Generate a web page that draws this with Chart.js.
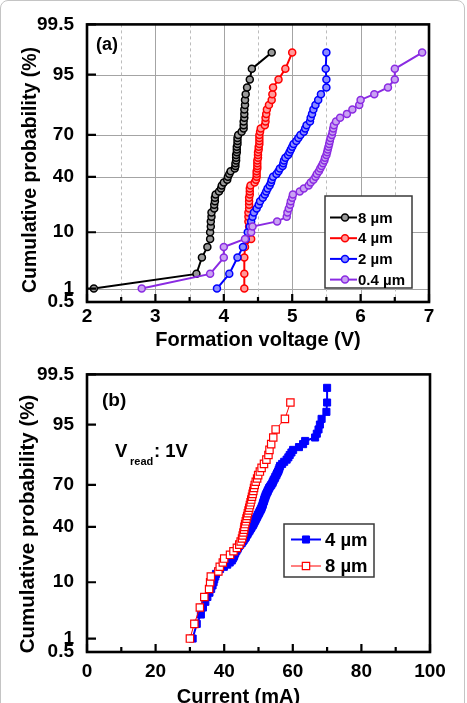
<!DOCTYPE html>
<html>
<head>
<meta charset="utf-8">
<title>Cumulative probability</title>
<script src="https://cdn.jsdelivr.net/npm/chart.js"></script>
<style>
  html, body { margin: 0; padding: 0; background: #fff; }
  body { width: 467px; height: 703px; position: relative; overflow: hidden; }
  .frame { position: absolute; left: 0; top: 0; width: 463px; height: 740px; border: 1.5px solid #c4c4c4; border-radius: 8px; }
  canvas { position: absolute; left: 0; }
  #chartA { top: 0; }
  #chartB { top: 350px; }
</style>
</head>
<body>
<div class="frame"></div>
<canvas id="chartA" width="467" height="350"></canvas>
<canvas id="chartB" width="467" height="360"></canvas>
<script>
// probability axis ticks (%)
const probTicks = [0.5, 1, 10, 40, 70, 95, 99.5];

// (a) formation voltage, cumulative probability in %
const probA = [1, 2, 4, 6, 8, 10, 12, 14, 16, 18, 20, 22, 24, 26, 28, 30, 32, 34, 36, 38,
  40, 42, 44, 46, 48, 50, 52, 54, 56, 58, 60, 62, 64, 66, 68, 70, 72, 74, 76, 78,
  80, 82, 84, 86, 88, 90, 92, 94, 96, 98];
const volt8um = [2.10, 3.60, 3.68, 3.76, 3.80, 3.80, 3.81, 3.81, 3.82, 3.82,
  3.86, 3.86, 3.87, 3.87, 3.88, 3.93, 3.96, 3.97, 4.00, 4.05,
  4.06, 4.08, 4.10, 4.16, 4.17, 4.17, 4.18, 4.18, 4.18, 4.19,
  4.19, 4.19, 4.20, 4.20, 4.20, 4.21, 4.26, 4.29, 4.29, 4.29,
  4.30, 4.30, 4.30, 4.31, 4.31, 4.32, 4.34, 4.38, 4.41, 4.70];
const volt4um = [4.30, 4.30, 4.30, 4.31, 4.40, 4.39, 4.37, 4.36, 4.36, 4.36,
  4.37, 4.37, 4.37, 4.37, 4.38, 4.38, 4.38, 4.39, 4.45, 4.47,
  4.48, 4.48, 4.48, 4.49, 4.49, 4.49, 4.49, 4.50, 4.50, 4.50,
  4.51, 4.51, 4.52, 4.52, 4.52, 4.52, 4.53, 4.54, 4.60, 4.61,
  4.61, 4.62, 4.63, 4.66, 4.70, 4.71, 4.72, 4.80, 4.90, 5.00];
const volt2um = [3.90, 4.08, 4.20, 4.28, 4.32, 4.35, 4.38, 4.40, 4.42, 4.44,
  4.48, 4.51, 4.53, 4.57, 4.60, 4.62, 4.64, 4.67, 4.69, 4.70,
  4.72, 4.77, 4.80, 4.82, 4.86, 4.87, 4.88, 4.90, 4.94, 4.96,
  4.98, 5.00, 5.02, 5.06, 5.09, 5.12, 5.17, 5.19, 5.21, 5.26,
  5.27, 5.29, 5.31, 5.34, 5.38, 5.42, 5.50, 5.50, 5.49, 5.50];
const volt04um = [2.80, 3.80, 4.00, 4.00, 4.31, 4.40, 4.42, 4.78, 4.92, 4.93,
  4.95, 4.97, 4.98, 5.00, 5.01, 5.11, 5.17, 5.24, 5.27, 5.31,
  5.34, 5.36, 5.39, 5.41, 5.43, 5.45, 5.47, 5.48, 5.50, 5.51,
  5.52, 5.53, 5.54, 5.55, 5.56, 5.58, 5.59, 5.60, 5.61, 5.64,
  5.70, 5.80, 5.88, 5.98, 6.00, 6.20, 6.40, 6.50, 6.50, 6.90];

// (b) read current at 1V
const probB4 = [1, 2, 3, 4, 5, 6, 7, 8, 9, 10, 11, 12, 13, 14, 15, 16, 17, 18, 19, 20,
  21, 22, 23, 24, 25, 26, 27, 28, 29, 30, 31, 32, 33, 34, 35, 36, 37, 38, 39, 40,
  41, 42, 43, 44, 45, 46, 47, 48, 49, 50, 51, 52, 53, 54, 55, 56, 57, 58, 59, 60,
  61, 62, 63, 64, 65, 66, 67, 68, 69, 70, 71, 72, 73, 74, 75, 76, 77, 78, 79, 80,
  81, 82, 83, 84, 85, 86, 87, 88, 89, 90, 91, 92, 93, 94, 95, 96, 97, 98, 99];
const cur4um = [30.8, 32.0, 33.2, 33.8, 34.5, 35.1, 35.7, 36.2, 36.6, 36.9,
  37.1, 37.4, 37.6, 38.2, 38.8, 39.9, 40.9, 41.6, 42.2, 42.5,
  42.8, 43.0, 43.2, 43.5, 43.8, 44.0, 44.3, 44.7, 45.1, 45.4,
  45.7, 46.0, 46.3, 46.5, 46.8, 47.0, 47.3, 47.5, 47.8, 48.0,
  48.3, 48.5, 48.7, 48.9, 49.1, 49.3, 49.5, 49.7, 49.9, 50.1,
  50.3, 50.5, 50.7, 50.9, 51.0, 51.2, 51.3, 51.4, 51.6, 51.7,
  51.8, 52.0, 52.1, 52.3, 52.5, 52.7, 52.9, 53.1, 53.4, 53.7,
  54.0, 54.2, 54.4, 54.7, 54.9, 55.2, 55.4, 55.7, 55.9, 56.1,
  56.3, 56.9, 57.5, 58.2, 58.7, 59.1, 59.6, 60.1, 61.8, 63.0,
  63.6, 66.5, 67.0, 67.5, 67.9, 68.4, 69.8, 70.0, 70.0];
const probB8 = [1, 2, 4, 6, 8, 10, 12, 14, 16, 18, 20, 22, 24, 26, 28, 30, 32, 34, 36, 38,
  40, 42, 44, 46, 48, 50, 52, 54, 56, 58, 60, 62, 64, 66, 68, 70, 72, 74, 76, 78,
  80, 82, 84, 86, 88, 90, 92, 94, 96, 98];
const cur8um = [30.0, 31.3, 32.9, 34.2, 35.6, 35.9, 36.1, 38.3, 38.7, 39.6,
  40.0, 41.7, 42.7, 43.7, 44.4, 44.8, 45.2, 45.4, 45.6, 45.8,
  45.9, 46.1, 46.3, 46.5, 46.7, 46.9, 47.1, 47.3, 47.5, 47.7,
  47.9, 48.1, 48.3, 48.5, 48.7, 48.9, 49.2, 49.6, 49.9, 50.4,
  50.9, 51.6, 52.3, 52.9, 53.2, 53.7, 54.3, 55.0, 57.7, 59.3];

const FONT = '"Liberation Sans", Arial, sans-serif';
Chart.defaults.font.family = FONT;
Chart.defaults.font.weight = 'bold';
Chart.defaults.color = '#000';

// inverse normal CDF (Acklam), used for the probability axis
function probit(p) {
  const a = [-39.69683028665376, 220.9460984245205, -275.9285104469687, 138.3577518672690, -30.66479806614716, 2.506628277459239];
  const b = [-54.47609879822406, 161.5858368580409, -155.6989798598866, 66.80131188771972, -13.28068155288572];
  const c = [-0.007784894002430293, -0.3223964580411365, -2.400758277161838, -2.549732539343734, 4.374664141464968, 2.938163982698783];
  const d = [0.007784695709041462, 0.3224671290700398, 2.445134137142996, 3.754408661907416];
  const lo = 0.02425;
  if (p < lo) {
    const q = Math.sqrt(-2 * Math.log(p));
    return (((((c[0] * q + c[1]) * q + c[2]) * q + c[3]) * q + c[4]) * q + c[5]) / ((((d[0] * q + d[1]) * q + d[2]) * q + d[3]) * q + 1);
  }
  if (p > 1 - lo) return -probit(1 - p);
  const q = p - 0.5, r = q * q;
  return (((((a[0] * r + a[1]) * r + a[2]) * r + a[3]) * r + a[4]) * r + a[5]) * q / (((((b[0] * r + b[1]) * r + b[2]) * r + b[3]) * r + b[4]) * r + 1);
}

function toPoints(xs, ps) {
  return xs.map((v, i) => ({ x: v, y: probit(ps[i] / 100) }));
}

// grid, inward ticks and the black box round the plot
function makeFrame(withGrid) {
  return {
    id: 'frame',
    beforeDatasetsDraw(chart) {
      if (!withGrid) return;
      const { ctx, chartArea: a, scales: { x, y } } = chart;
      const xt = x.ticks.map(t => t.value);
      ctx.save();
      ctx.lineWidth = 1;
      ctx.strokeStyle = '#a4a4a4';
      ctx.beginPath();
      xt.forEach(v => {
        if (v > x.min && v < x.max) {
          const px = Math.round(x.getPixelForValue(v)) + 0.5;
          ctx.moveTo(px, a.top); ctx.lineTo(px, a.bottom);
        }
      });
      y.ticks.forEach(t => {
        if (t.value > y.min + 1e-6 && t.value < y.max - 1e-6) {
          const py = Math.round(y.getPixelForValue(t.value)) + 0.5;
          ctx.moveTo(a.left, py); ctx.lineTo(a.right, py);
        }
      });
      ctx.stroke();
      ctx.setLineDash([3, 3]);
      ctx.strokeStyle = '#bcbcbc';
      ctx.beginPath();
      for (let i = 0; i < xt.length - 1; i++) {
        const px = Math.round(x.getPixelForValue((xt[i] + xt[i + 1]) / 2)) + 0.5;
        ctx.moveTo(px, a.top); ctx.lineTo(px, a.bottom);
      }
      ctx.stroke();
      ctx.restore();
    },
    afterDatasetsDraw(chart) {
      const { ctx, chartArea: a, scales: { x, y } } = chart;
      const xt = x.ticks.map(t => t.value);
      ctx.save();
      ctx.strokeStyle = '#000';
      ctx.lineWidth = 2.2;
      ctx.beginPath();
      xt.forEach((v, i) => {
        const px = x.getPixelForValue(v);
        ctx.moveTo(px, a.bottom); ctx.lineTo(px, a.bottom - 8);
        if (i < xt.length - 1) {
          const pm = x.getPixelForValue((v + xt[i + 1]) / 2);
          ctx.moveTo(pm, a.bottom); ctx.lineTo(pm, a.bottom - 5);
        }
      });
      y.ticks.forEach(t => {
        const py = y.getPixelForValue(t.value);
        ctx.moveTo(a.left, py); ctx.lineTo(a.left + 9, py);
      });
      ctx.stroke();
      ctx.lineWidth = 2.6;
      ctx.strokeRect(a.left, a.top, a.right - a.left, a.bottom - a.top);
      ctx.restore();
    }
  };
}

function drawMarker(ctx, ds, x, y) {
  const r = ds.pointRadius;
  ctx.beginPath();
  if (ds.pointStyle === 'rect') {
    const s = Math.SQRT1_2 * r;
    ctx.rect(x - s, y - s, 2 * s, 2 * s);
  } else {
    ctx.arc(x, y, r, 0, Math.PI * 2);
  }
  ctx.fillStyle = ds.pointBackgroundColor;
  ctx.fill();
  ctx.lineWidth = ds.pointBorderWidth;
  ctx.strokeStyle = ds.borderColor;
  ctx.stroke();
}

// boxed legend placed inside the plot
function makeLegend(o) {
  return {
    id: 'boxLegend',
    afterDraw(chart) {
      const ctx = chart.ctx;
      ctx.save();
      ctx.fillStyle = '#fff';
      ctx.fillRect(o.left, o.top, o.width, o.height);
      ctx.strokeStyle = '#3a3a3a';
      ctx.lineWidth = 1.5;
      ctx.strokeRect(o.left, o.top, o.width, o.height);
      chart.data.datasets.forEach((ds, i) => {
        const yy = o.rowY + i * o.rowStep;
        ctx.strokeStyle = ds.borderColor;
        ctx.lineWidth = ds.borderWidth;
        ctx.beginPath();
        ctx.moveTo(o.lineFrom, yy); ctx.lineTo(o.lineTo, yy);
        ctx.stroke();
        drawMarker(ctx, ds, o.markX, yy);
        ctx.fillStyle = '#000';
        ctx.font = o.font + ' ' + FONT;
        ctx.textAlign = 'left';
        ctx.textBaseline = 'middle';
        ctx.fillText(ds.label, o.textX, yy + 1);
      });
      ctx.restore();
    }
  };
}

// free text: panel letters, axis titles, notes
function makeTexts(items) {
  return {
    id: 'texts',
    afterDraw(chart) {
      const ctx = chart.ctx;
      items.forEach(t => {
        ctx.save();
        ctx.font = t.font + ' ' + FONT;
        ctx.fillStyle = '#000';
        ctx.textAlign = t.align || 'left';
        ctx.textBaseline = t.base || 'middle';
        ctx.translate(t.x, t.y);
        if (t.rot) ctx.rotate(t.rot);
        ctx.fillText(t.text, 0, 0);
        ctx.restore();
      });
    }
  };
}

function probAxis() {
  return {
    type: 'linear',
    min: probit(0.005),
    max: probit(0.995),
    afterBuildTicks: s => { s.ticks = probTicks.map(p => ({ value: probit(p / 100) })); },
    afterFit: s => { s.width = 87; },
    ticks: { autoSkip: false, padding: 13, font: { size: 19, weight: 'bold' }, callback: (v, i) => String(probTicks[i]) },
    grid: { display: false, drawTicks: false },
    border: { display: false }
  };
}

function circleSet(label, xs, color, fill, order) {
  return {
    label: label,
    data: toPoints(xs, probA),
    showLine: true,
    borderColor: color,
    borderWidth: 2,
    pointStyle: 'circle',
    pointRadius: 3.5,
    pointBorderWidth: 1.5,
    pointBorderColor: color,
    pointBackgroundColor: fill,
    order: order
  };
}

new Chart(document.getElementById('chartA'), {
  type: 'scatter',
  data: {
    datasets: [
      circleSet('8 \u00b5m', volt8um, '#000000', '#9a9a9a', 3),
      circleSet('4 \u00b5m', volt4um, '#ff0000', '#ff9a9a', 2),
      circleSet('2 \u00b5m', volt2um, '#0000ff', '#8c8cff', 1),
      circleSet('0.4 \u00b5m', volt04um, '#8a2be2', '#c9a2f2', 0)
    ]
  },
  options: {
    responsive: false,
    animation: false,
    events: [],
    layout: { padding: { top: 23, right: 38, bottom: 0, left: 0 } },
    plugins: { legend: { display: false }, tooltip: { enabled: false } },
    scales: {
      x: {
        type: 'linear', min: 2, max: 7,
        afterFit: s => { s.height = 48; },
        ticks: { stepSize: 1, padding: 3, font: { size: 19, weight: 'bold' } },
        grid: { display: false, drawTicks: false },
        border: { display: false }
      },
      y: probAxis()
    }
  },
  plugins: [
    makeFrame(true),
    makeLegend({ left: 325, top: 196, width: 87, height: 92, rowY: 217.5, rowStep: 20.7,
      lineFrom: 330, lineTo: 357, markX: 345, textX: 358, font: 'bold 15px' }),
    makeTexts([
      { text: '(a)', x: 96, y: 45, font: 'bold 18px' },
      { text: 'Formation voltage (V)', x: 258, y: 340, font: 'bold 20px', align: 'center' },
      { text: 'Cumulative probability (%)', x: 31, y: 170, font: 'bold 19.5px', align: 'center', rot: -Math.PI / 2 }
    ])
  ]
});

new Chart(document.getElementById('chartB'), {
  type: 'scatter',
  data: {
    datasets: [
      {
        label: '4 \u00b5m',
        data: toPoints(cur4um, probB4),
        showLine: true,
        borderColor: '#0000ff',
        borderWidth: 2,
        pointStyle: 'rect',
        pointRadius: 5,
        pointBorderWidth: 1,
        pointBorderColor: '#0000ff',
        pointBackgroundColor: '#0000ff',
        order: 1
      },
      {
        label: '8 \u00b5m',
        data: toPoints(cur8um, probB8),
        showLine: true,
        borderColor: '#ff0000',
        borderWidth: 1,
        pointStyle: 'rect',
        pointRadius: 5.2,
        pointBorderWidth: 1.2,
        pointBorderColor: '#ff0000',
        pointBackgroundColor: '#ffffff',
        order: 0
      }
    ]
  },
  options: {
    responsive: false,
    animation: false,
    events: [],
    layout: { padding: { top: 23, right: 37, bottom: 0, left: 0 } },
    plugins: { legend: { display: false }, tooltip: { enabled: false } },
    scales: {
      x: {
        type: 'linear', min: 0, max: 100,
        afterFit: s => { s.height = 58; },
        ticks: { stepSize: 20, padding: 8, font: { size: 19, weight: 'bold' } },
        grid: { display: false, drawTicks: false },
        border: { display: false }
      },
      y: probAxis()
    }
  },
  plugins: [
    makeFrame(false),
    makeLegend({ left: 284, top: 174, width: 90, height: 53, rowY: 189.5, rowStep: 26.5,
      lineFrom: 291, lineTo: 321, markX: 306, textX: 325, font: 'bold 18.5px' }),
    makeTexts([
      { text: '(b)', x: 102, y: 51, font: 'bold 19px' },
      { text: 'V', x: 115, y: 106.5, font: 'bold 18.5px', base: 'alphabetic' },
      { text: 'read', x: 130, y: 115, font: 'bold 11px', base: 'alphabetic' },
      { text: ': 1V', x: 154, y: 106.5, font: 'bold 18.5px', base: 'alphabetic' },
      { text: 'Current (mA)', x: 238.5, y: 347, font: 'bold 20px', align: 'center' },
      { text: 'Cumulative probability (%)', x: 28, y: 174, font: 'bold 20.5px', align: 'center', rot: -Math.PI / 2 }
    ])
  ]
});
</script>
</body>
</html>
